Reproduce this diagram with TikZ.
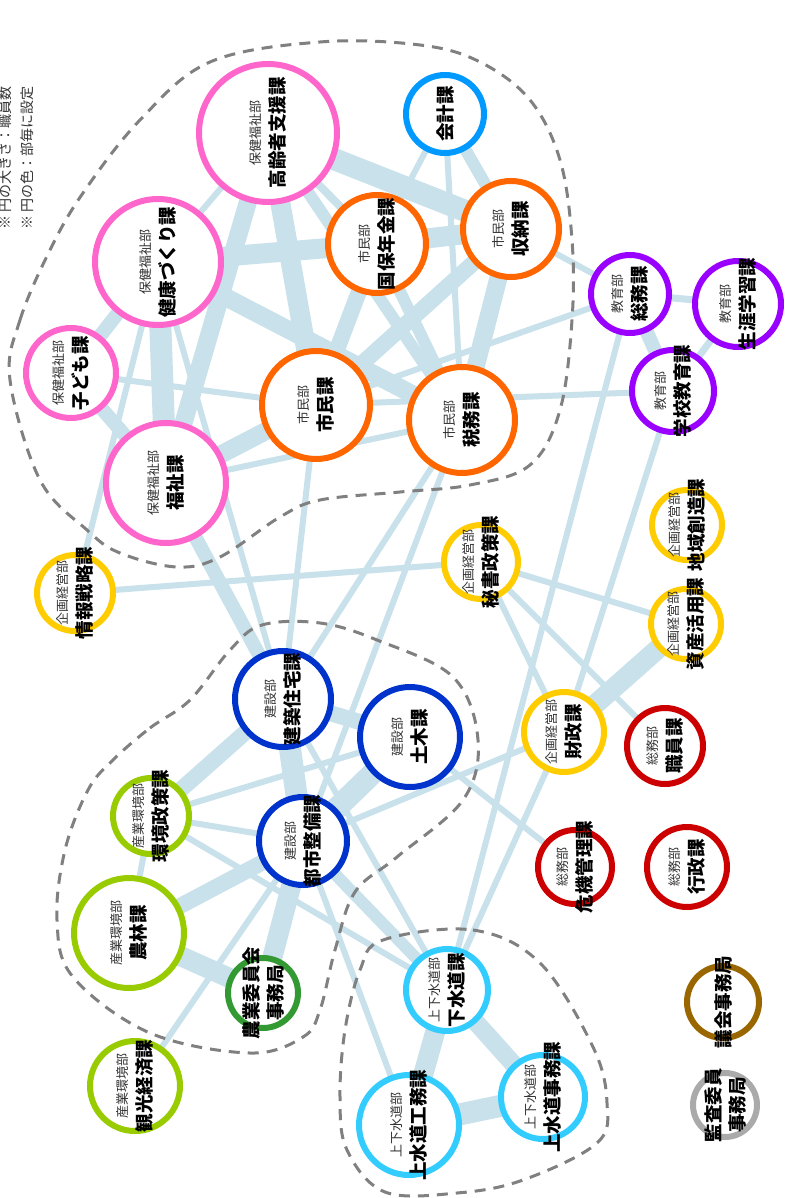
\documentclass[tikz,border=0pt]{standalone}
\usepackage{fontspec}
\setmainfont{Noto Sans CJK JP}
\pgfdeclarelayer{bg}
\pgfsetlayers{bg,main}
\definecolor{pinkc}{HTML}{FF66CC}
\definecolor{orangec}{HTML}{FF6600}
\definecolor{skyc}{HTML}{0099FF}
\definecolor{purplec}{HTML}{9900FF}
\definecolor{yellowc}{HTML}{FFCC00}
\definecolor{navyc}{HTML}{0033CC}
\definecolor{redc}{HTML}{CC0000}
\definecolor{limec}{HTML}{99CC00}
\definecolor{greenc}{HTML}{339933}
\definecolor{cyanc}{HTML}{33CCFF}
\definecolor{brownc}{HTML}{996600}
\definecolor{grayc}{HTML}{AAAAAA}
\definecolor{edgec}{HTML}{C8E1EA}
\definecolor{hullc}{HTML}{808080}
\definecolor{deptc}{HTML}{333333}
\newcommand\bu[2]{{\color{deptc}#1}\\{\fontsize{18.5}{24}\selectfont\bfseries #2}}
\newcommand\nm[1]{{\fontsize{18.5}{24}\selectfont\bfseries #1}}
\begin{document}
\begin{tikzpicture}[x=1pt,y=-1pt,
  ring/.style={circle, line width=6pt, fill=white, inner sep=0pt, minimum size=#1},
  lbl/.style={rotate=90, align=center, inner sep=0pt, font=\fontsize{13}{24}\selectfont},
  link/.style={draw=edgec, line width=#1},
  hull/.style={draw=hullc, line width=3pt, dash pattern=on 11pt off 8pt},
  note/.style={rotate=90, anchor=west, inner sep=0pt, text=deptc, font=\fontsize{14}{16}\selectfont}]
\useasboundingbox (0,0) rectangle (787,1198);

% legend
\node[note] (note1) at (5,230) {※ 円の大きさ：職員数};
\node[note] (note2) at (27,230) {※ 円の色：部毎に設定};

% circles: one per section, radius = staff size, colour = department
\node[ring=138pt, draw=pinkc]   (kourei)   at (268,133) {};
\node[ring=78pt,  draw=skyc]    (kaikei)   at (445,114) {};
\node[ring=96pt,  draw=orangec] (shuno)    at (511,229) {};
\node[ring=98pt,  draw=orangec] (kokuho)   at (377,244) {};
\node[ring=126pt, draw=pinkc]   (kenko)    at (158,262) {};
\node[ring=90pt,  draw=pinkc]   (kodomo)   at (71,373)  {};
\node[ring=120pt, draw=pinkc]   (fukushi)  at (166,483) {};
\node[ring=108pt, draw=orangec] (shimin)   at (316,405) {};
\node[ring=106pt, draw=orangec] (zeimu)    at (462,420) {};
\node[ring=78pt,  draw=purplec] (esomu)    at (630,294) {};
\node[ring=86pt,  draw=purplec] (shogai)   at (738,304) {};
\node[ring=82pt,  draw=purplec] (gakko)    at (673,391) {};
\node[ring=70pt,  draw=yellowc] (chiiki)   at (687,525) {};
\node[ring=74pt,  draw=yellowc] (hisho)    at (481,562) {};
\node[ring=70pt,  draw=yellowc] (shisan)   at (686,624) {};
\node[ring=76pt,  draw=yellowc] (joho)     at (75,593)  {};
\node[ring=96pt,  draw=navyc]   (kenchiku) at (283,699) {};
\node[ring=100pt, draw=navyc]   (doboku)   at (410,737) {};
\node[ring=88pt,  draw=navyc]   (toshi)    at (303,841) {};
\node[ring=80pt,  draw=yellowc] (zaisei)   at (564,732) {};
\node[ring=76pt,  draw=redc]    (shokuin)  at (665,746) {};
\node[ring=74pt,  draw=redc]    (kiki)     at (575,867) {};
\node[ring=80pt,  draw=redc]    (gyosei)   at (687,867) {};
\node[ring=76pt,  draw=limec]   (kankyo)   at (151,816) {};
\node[ring=110pt, draw=limec]   (norin)    at (129,933) {};
\node[ring=70pt,  draw=greenc]  (nogyo)    at (263,993) {};
\node[ring=90pt,  draw=limec]   (kanko)    at (135,1086) {};
\node[ring=82pt,  draw=cyanc]   (gesui)    at (447,990) {};
\node[ring=100pt, draw=cyanc]   (josuiko)  at (409,1125) {};
\node[ring=84pt,  draw=cyanc]   (josuiji)  at (543,1097) {};
\node[ring=72pt,  draw=brownc]  (gikai)    at (723,1002) {};
\node[ring=64pt,  draw=grayc]   (kansa)    at (725,1105) {};

% labels
\node[lbl] (t-kourei)   at (kourei)   {\bu{保健福祉部}{高齢者支援課}};
\node[lbl] (t-kaikei)   at (kaikei)   {\nm{会計課}};
\node[lbl] (t-shuno)    at (shuno)    {\bu{市民部}{収納課}};
\node[lbl] (t-kokuho)   at (kokuho)   {\bu{市民部}{国保年金課}};
\node[lbl] (t-kenko)    at (kenko)    {\bu{保健福祉部}{健康づくり課}};
\node[lbl] (t-kodomo)   at (kodomo)   {\bu{保健福祉部}{子ども課}};
\node[lbl] (t-fukushi)  at (fukushi)  {\bu{保健福祉部}{福祉課}};
\node[lbl] (t-shimin)   at (shimin)   {\bu{市民部}{市民課}};
\node[lbl] (t-zeimu)    at (zeimu)    {\bu{市民部}{税務課}};
\node[lbl] (t-esomu)    at (esomu)    {\bu{教育部}{総務課}};
\node[lbl] (t-shogai)   at (shogai)   {\bu{教育部}{生涯学習課}};
\node[lbl] (t-gakko)    at (gakko)    {\bu{教育部}{学校教育課}};
\node[lbl] (t-chiiki)   at (chiiki)   {\bu{企画経営部}{地域創造課}};
\node[lbl] (t-hisho)    at (hisho)    {\bu{企画経営部}{秘書政策課}};
\node[lbl] (t-shisan)   at (shisan)   {\bu{企画経営部}{資産活用課}};
\node[lbl] (t-joho)     at (joho)     {\bu{企画経営部}{情報戦略課}};
\node[lbl] (t-kenchiku) at (kenchiku) {\bu{建設部}{建築住宅課}};
\node[lbl] (t-doboku)   at (doboku)   {\bu{建設部}{土木課}};
\node[lbl] (t-toshi)    at (toshi)    {\bu{建設部}{都市整備課}};
\node[lbl] (t-zaisei)   at (zaisei)   {\bu{企画経営部}{財政課}};
\node[lbl] (t-shokuin)  at (shokuin)  {\bu{総務部}{職員課}};
\node[lbl] (t-kiki)     at (kiki)     {\bu{総務部}{危機管理課}};
\node[lbl] (t-gyosei)   at (gyosei)   {\bu{総務部}{行政課}};
\node[lbl] (t-kankyo)   at (kankyo)   {\bu{産業環境部}{環境政策課}};
\node[lbl] (t-norin)    at (norin)    {\bu{産業環境部}{農林課}};
\node[lbl] (t-nogyo)    at (nogyo)    {\nm{農業委員会}\\\nm{事務局}};
\node[lbl] (t-kanko)    at (kanko)    {\bu{産業環境部}{観光経済課}};
\node[lbl] (t-gesui)    at (gesui)    {\bu{上下水道部}{下水道課}};
\node[lbl] (t-josuiko)  at (josuiko)  {\bu{上下水道部}{上水道工務課}};
\node[lbl] (t-josuiji)  at (josuiji)  {\bu{上下水道部}{上水道事務課}};
\node[lbl] (t-gikai)    at (gikai)    {\nm{議会事務局}};
\node[lbl] (t-kansa)    at (kansa)    {\nm{監査委員}\\\nm{事務局}};

\begin{pgfonlayer}{bg}
% links between sections, width = strength of the tie
\foreach \a/\b/\w in {
  kourei/shuno/22, kourei/shimin/20, kourei/fukushi/18, kourei/kokuho/8,
  kourei/zeimu/12, kourei/kenko/6, kaikei/shuno/12, kaikei/kokuho/6,
  kaikei/zeimu/6, kenko/kokuho/20, kenko/fukushi/22, kenko/kodomo/14,
  kodomo/fukushi/14, kenko/zeimu/18, kenko/joho/6, kenko/kenchiku/6,
  kodomo/shimin/6, fukushi/shimin/18, fukushi/zeimu/6, fukushi/kenchiku/14,
  shimin/kokuho/16, shimin/shuno/16, kokuho/shuno/20, shuno/zeimu/18,
  kokuho/zeimu/12, shuno/esomu/6, shimin/esomu/6, shimin/gakko/6,
  esomu/gakko/14, esomu/shogai/7, gakko/shogai/7, esomu/gesui/6,
  gakko/zaisei/6, joho/hisho/6, hisho/shisan/6, hisho/zaisei/6,
  hisho/shokuin/6, shisan/zaisei/20, zaisei/gesui/6, toshi/zaisei/6,
  doboku/kiki/6, kenchiku/doboku/16, kenchiku/toshi/22, doboku/toshi/22,
  kenchiku/kankyo/16, toshi/norin/16, toshi/nogyo/20, norin/nogyo/20,
  kankyo/toshi/6, kankyo/doboku/6, kankyo/gesui/6, kankyo/norin/6,
  kanko/toshi/6, kenchiku/gesui/6, toshi/gesui/12, toshi/josuiko/6,
  gesui/josuiko/20, gesui/josuiji/18, josuiko/josuiji/22,
  shimin/kenchiku/6, zeimu/kenchiku/6, zeimu/toshi/6}
  \draw[link=\w pt] (\a.center) -- (\b.center);

% department groupings
\draw[hull] plot[smooth cycle, tension=0.6] coordinates {
  (10,380) (20,320) (50,250) (83,193) (140,120) (210,62) (320,42) (420,45)
  (480,62) (530,100) (560,160) (572,240) (572,320) (560,410) (530,465)
  (470,485) (400,492) (320,500) (280,517) (220,557) (177,567) (120,553)
  (87,530) (40,480)};
\draw[hull] plot[smooth cycle, tension=0.6] coordinates {
  (113,760) (150,728) (190,700) (230,650) (262,625) (320,623) (377,640)
  (453,677) (478,740) (463,800) (397,857) (355,892) (335,950) (320,1010)
  (303,1037) (250,1053) (150,1033) (73,977) (57,920) (65,850) (88,790)};
\draw[hull] plot[smooth cycle, tension=0.6] coordinates {
  (383,940) (473,930) (540,963) (593,1047) (607,1103) (597,1143) (523,1180)
  (457,1193) (385,1192) (347,1150) (340,1097) (345,1030) (360,970)};
\end{pgfonlayer}
\end{tikzpicture}
\end{document}
